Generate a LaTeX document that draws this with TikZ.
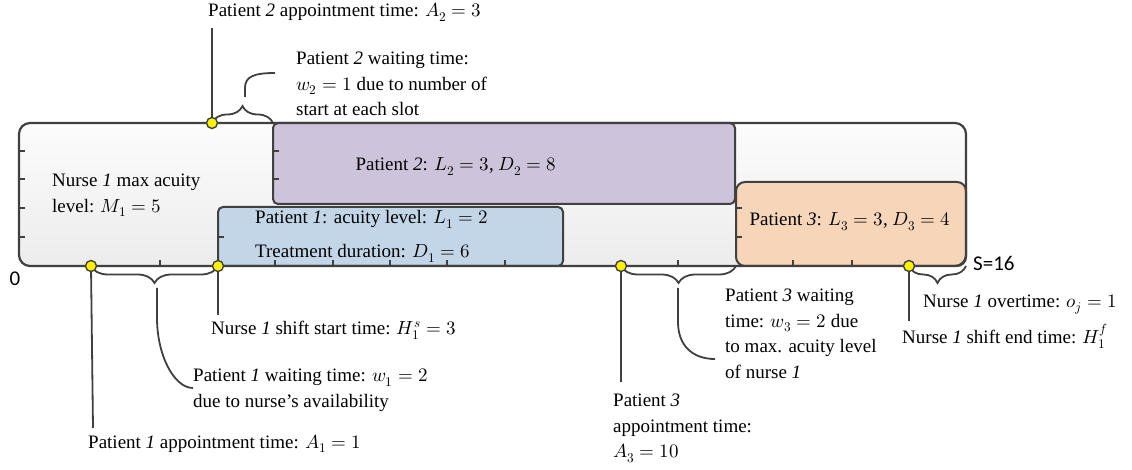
\documentclass[tikz,border=0pt]{standalone}
\usepackage{fontspec}
\usepackage{unicode-math}
\setmainfont{Liberation Serif}
\newfontfamily\calib{Carlito}
\usetikzlibrary{decorations.pathreplacing}
\definecolor{bord}{HTML}{404040}
\definecolor{purp}{HTML}{CDC3DB}
\definecolor{blu}{HTML}{C3D6E8}
\definecolor{orng}{HTML}{F7D5B8}
\definecolor{mbtop}{HTML}{FCFCFC}
\definecolor{mbbot}{HTML}{ECECEC}
\newcommand\lbfont{\fontsize{19}{25.5}\selectfont}
\begin{document}
\begin{tikzpicture}[x=1pt,y=-1pt,
  lbl/.style={inner sep=0pt, font=\lbfont, align=left},
  lead/.style={draw=bord, line width=1.8pt},
  brc/.style={draw=bord, line width=1.8pt, decorate, decoration={brace, amplitude=17pt}},
  brcm/.style={draw=bord, line width=1.8pt, decorate, decoration={brace, mirror, amplitude=17pt}},
  dot/.style={circle, fill=yellow, draw=bord, line width=1.4pt, minimum size=11pt, inner sep=0pt},
  tck/.style={draw=bord, line width=1.8pt},
  cbox/.style={draw=bord, line width=2pt, rounded corners=5pt}]
\useasboundingbox (0,0) rectangle (1132,470);

% main nurse box
\coordinate (mbNW) at (19,123);
\coordinate (mbSE) at (966,266);
\shade[top color=mbtop, bottom color=mbbot, rounded corners=11pt] (mbNW) rectangle (mbSE);

% patient boxes
\draw[cbox, fill=purp] (273,123) coordinate (p2NW) rectangle (735,204) coordinate (p2SE);
\draw[cbox, fill=blu] (218,207) coordinate (p1NW) rectangle (563,266) coordinate (p1SE);
\draw[cbox, fill=orng, rounded corners=9pt] (736,182) coordinate (p3NW) rectangle (966,266) coordinate (p3SE);

% main border
\draw[draw=bord, line width=2.2pt, rounded corners=11pt] (mbNW) rectangle (mbSE);

% ticks
\foreach \y in {151,179,208,237} \draw[tck] (19,\y) -- (25,\y);
\foreach \y in {151,179} \draw[tck] (273,\y) -- (279,\y);
\draw[tck] (218,237) -- (224,237);
\foreach \y in {208,237} \draw[tck] (736,\y) -- (742,\y);
\foreach \x in {160,275,333,390,447,505,678,793,852} \draw[tck] (\x,266) -- (\x,260);

% dot positions
\coordinate (pA2) at (212,123);
\coordinate (pA1) at (91,266);
\coordinate (pHs) at (218,266);
\coordinate (pA3) at (621,266);
\coordinate (pHf) at (909,266);
\coordinate (pS) at (966,266);

% free ends of leaders
\coordinate (eA2) at (212,28);
\coordinate (eA1) at (93,428);
\coordinate (eHs) at (218,315);
\coordinate (eA3) at (621,382);
\coordinate (eHf) at (909,321);

\draw[lead] (pA2) -- (eA2);
\draw[lead] (pA1) -- (eA1);
\draw[lead] (pHs) -- (eHs);
\draw[lead] (pA3) -- (eA3);
\draw[lead] (pHf) -- (eHf);

% braces
\draw[brc] (pA2) -- (p2NW);
\draw[brcm] (pA1) -- (pHs);
\draw[brcm] (pA3) -- (p3NW |- pA3);
\draw[brcm] (pHf) -- (pS);

% brace leaders
\coordinate (b2a) at (245,97);
\coordinate (b2b) at (245,88);
\coordinate (b2e) at (275,73);
\draw[lead] (b2a) -- (b2b) .. controls (245,77) and (253,73) .. (b2e);
\coordinate (b1a) at (157,288);
\coordinate (b1b) at (157,318);
\coordinate (b1e) at (193,388);
\draw[lead] (b1a) -- (b1b) .. controls (157,355) and (174,388) .. (b1e);
\coordinate (b3a) at (678,288);
\coordinate (b3b) at (678,322);
\coordinate (b3e) at (715,359);
\draw[lead] (b3a) -- (b3b) .. controls (678,346) and (693,359) .. (b3e);

% dots
\foreach \n in {A2,A1,Hs,A3,Hf} \node[dot] (d\n) at (p\n) {};

% texts
\node[lbl, anchor=base west] (tA2) at (208,17) {Patient \textit{2} appointment time: $A_2 = 3$};
\node[lbl, anchor=north west] (tw2) at (296,52) {Patient \textit{2} waiting time:\\$w_2 = 1$ due to number of\\start at each slot};
\node[lbl, anchor=north west] (tM1) at (52,174) {Nurse \textit{1} max acuity\\level: $M_1 = 5$};
\node[lbl, anchor=base] (tP2) at (456,171) {Patient \textit{2}: $L_2 = 3$, $D_2 = 8$};
\node[lbl, anchor=north west] (tP1) at (255,210) {Patient \textit{1}: acuity level: $L_1 = 2$\\[8.5pt]Treatment duration: $D_1 = 6$};
\node[lbl, anchor=base] (tP3) at (850,226) {Patient \textit{3}: $L_3 = 3$, $D_3 = 4$};
\node[inner sep=0pt, font=\calib\fontsize{21}{21}\selectfont] (t0) at (15,279) {0};
\node[inner sep=0pt, anchor=base west, font=\calib\fontsize{21}{21}\selectfont] (tS) at (973,271) {S=16};
\node[lbl, anchor=base west] (tHs) at (211,334) {Nurse \textit{1} shift start time: $H_1^s = 3$};
\node[lbl, anchor=north west] (tw1) at (193,369) {Patient \textit{1} waiting time: $w_1 = 2$\\due to nurse’s availability};
\node[lbl, anchor=base west] (tA1) at (88,448) {Patient \textit{1} appointment time: $A_1 = 1$};
\node[lbl, anchor=north west] (tw3) at (725,289) {Patient \textit{3} waiting\\time: $w_3 = 2$ due\\to max. acuity level\\of nurse \textit{1}};
\node[lbl, anchor=north west] (tA3) at (613,394) {Patient \textit{3}\\appointment time:\\$A_3 = 10$};
\node[lbl, anchor=base west] (to) at (923,307) {Nurse \textit{1} overtime: $o_j = 1$};
\node[lbl, anchor=base west] (tHf) at (902,343) {Nurse \textit{1} shift end time: $H_1^f$};
\end{tikzpicture}
\end{document}
